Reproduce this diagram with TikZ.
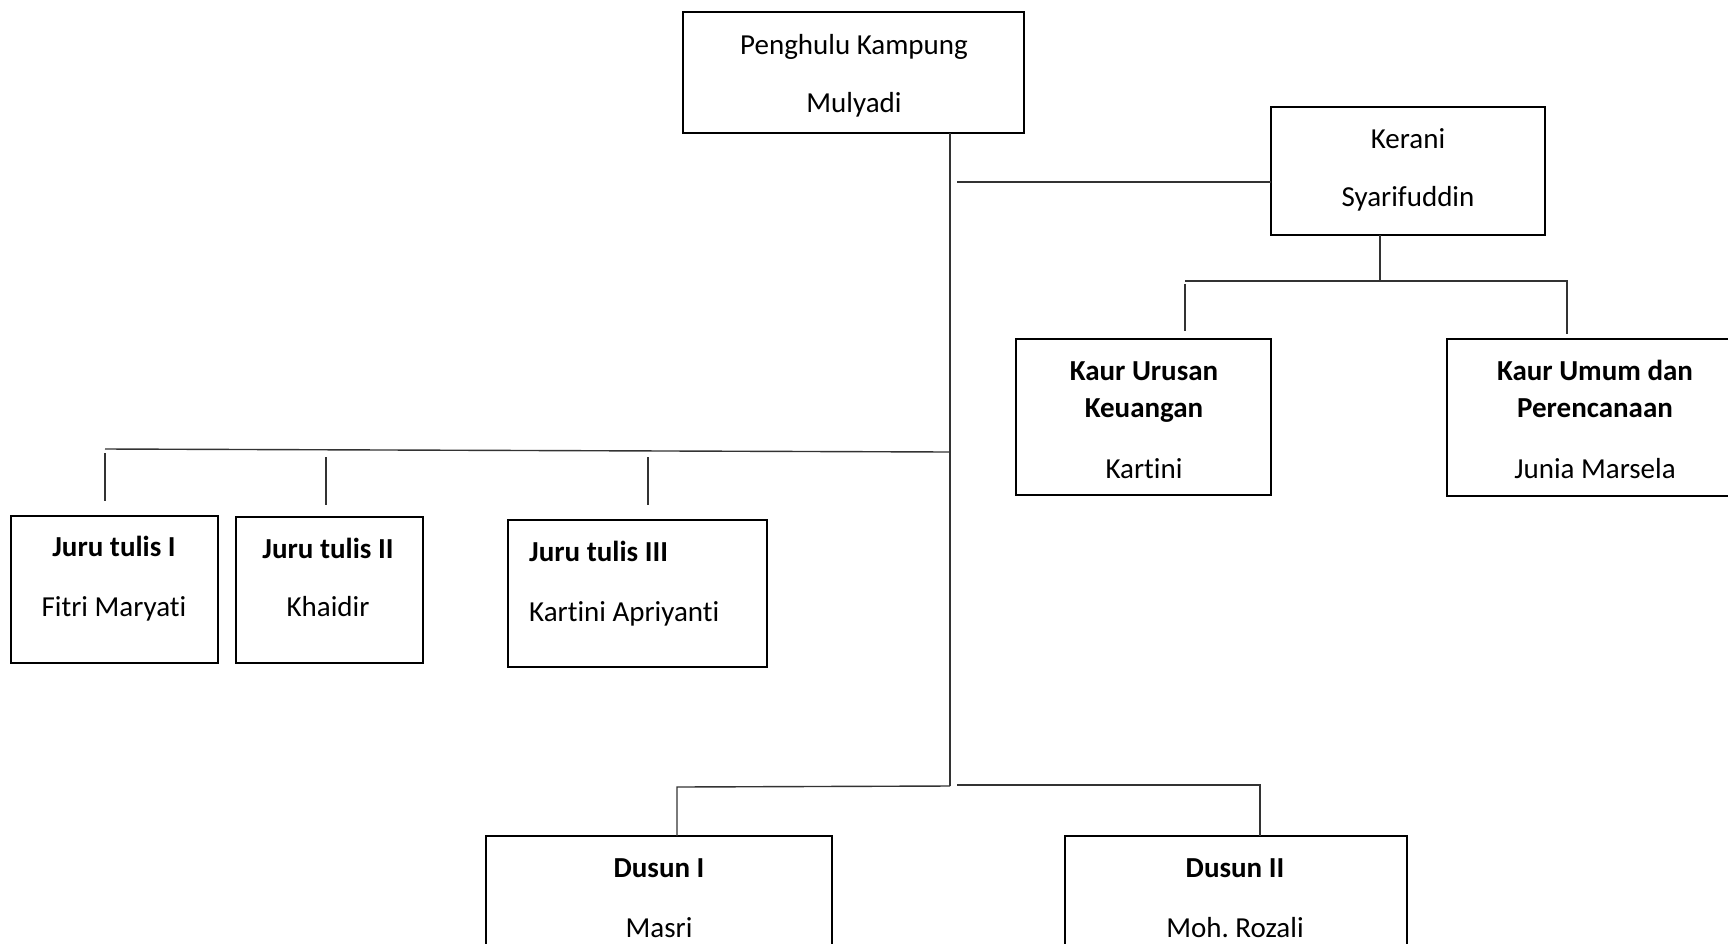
\documentclass[tikz,border=0pt]{standalone}
\usepackage{fontspec}
\setmainfont{Carlito}[Ligatures={NoCommon}]
\frenchspacing
\begin{document}
\begin{tikzpicture}[x=1pt,y=-1pt,
  box/.style={draw=black,line width=2.6pt,rectangle,inner sep=0pt,outer sep=0pt},
  conn/.style={draw=black!80,line width=1.4pt},
  txt/.style={anchor=base,inner sep=0pt,font=\fontsize{29}{35}\selectfont},
  btxt/.style={anchor=base,inner sep=0pt,font=\fontsize{29}{35}\selectfont\bfseries},
  ltxt/.style={anchor=base west,inner sep=0pt,font=\fontsize{29}{35}\selectfont},
  lbtxt/.style={anchor=base west,inner sep=0pt,font=\fontsize{29}{35}\selectfont\bfseries}]
\useasboundingbox (0,0) rectangle (1728,943);
\fill[white] (0,0) rectangle (1728,943);
% boxes
\node[box,minimum width=341pt,minimum height=121pt] (pk) at (853.5,72.5) {};
\node[box,minimum width=274pt,minimum height=128pt] (ker) at (1408,171) {};
\node[box,minimum width=255pt,minimum height=156pt] (kuk) at (1143.5,417) {};
\node[box,minimum width=296pt,minimum height=157pt] (kum) at (1595,417.5) {};
\node[box,minimum width=207pt,minimum height=147pt] (j1) at (114.5,589.5) {};
\node[box,minimum width=187pt,minimum height=146pt] (j2) at (329.5,590) {};
\node[box,minimum width=259pt,minimum height=147pt] (j3) at (637.5,593.5) {};
\node[box,minimum width=346pt,minimum height=160pt] (d1) at (659,916) {};
\node[box,minimum width=342pt,minimum height=160pt] (d2) at (1236,916) {};
% texts
\node[txt] (pk1) at (854,54) {Penghulu Kampung};
\node[txt] (pk2) at (854,112) {Mulyadi};
\node[txt] (ker1) at (1408,148) {Kerani};
\node[txt] (ker2) at (1408,206) {Syarifuddin};
\node[btxt] (kuk1) at (1144,380) {Kaur Urusan};
\node[btxt] (kuk2) at (1144,417) {Keuangan};
\node[txt] (kuk3) at (1144,478) {Kartini};
\node[btxt] (kum1) at (1595,380) {Kaur Umum dan};
\node[btxt] (kum2) at (1595,417) {Perencanaan};
\node[txt] (kum3) at (1595,478) {Junia Marsela};
\node[btxt] (j1a) at (114,556) {Juru tulis I};
\node[txt] (j1b) at (114,616) {Fitri Maryati};
\node[btxt] (j2a) at (328,558) {Juru tulis II};
\node[txt] (j2b) at (328,616) {Khaidir};
\node[lbtxt] (j3a) at (529,561) {Juru tulis III};
\node[ltxt] (j3b) at (529,621) {Kartini Apriyanti};
\node[btxt] (d1a) at (659,877) {Dusun I};
\node[txt] (d1b) at (659,937) {Masri};
\node[btxt] (d2a) at (1235,877) {Dusun II};
\node[txt] (d2b) at (1235,937) {Moh. Rozali};
% connector coordinates
\coordinate (trunkb) at (950,786);
\coordinate (kerl) at (957,182);
\coordinate (jr) at (950,452);
\coordinate (jl) at (105,449);
\coordinate (j1t) at (105,453);
\coordinate (j1b2) at (105,501);
\coordinate (j2t) at (326,457);
\coordinate (j2b2) at (326,505);
\coordinate (j3t) at (648,457);
\coordinate (j3b2) at (648,505);
\coordinate (kh) at (1380,281);
\coordinate (khl) at (1185,281);
\coordinate (khr) at (1567,281);
\coordinate (kukt) at (1185,284);
\coordinate (kukb) at (1185,331);
\coordinate (kumb) at (1567,334);
\coordinate (dl) at (677,787);
\coordinate (dls) at (677,790);
\coordinate (dr0) at (957,785);
\coordinate (dr) at (1260,785);
% connectors
\draw[conn] (pk.south -| 950,0) -- (trunkb);
\draw[conn] (kerl) -- (kerl -| ker.west);
\draw[conn] (jl) -- (jr);
\draw[conn] (j1t) -- (j1b2);
\draw[conn] (j2t) -- (j2b2);
\draw[conn] (j3t) -- (j3b2);
\draw[conn] (ker.south -| kh) -- (kh);
\draw[conn] (khl) -- (khr) -- (kumb);
\draw[conn] (kukt) -- (kukb);
\draw[conn] (trunkb) -- (dl) -- (dls) -- (d1.north -| dl);
\draw[conn] (dr0) -- (dr) -- (d2.north -| dr);
\end{tikzpicture}
\end{document}
